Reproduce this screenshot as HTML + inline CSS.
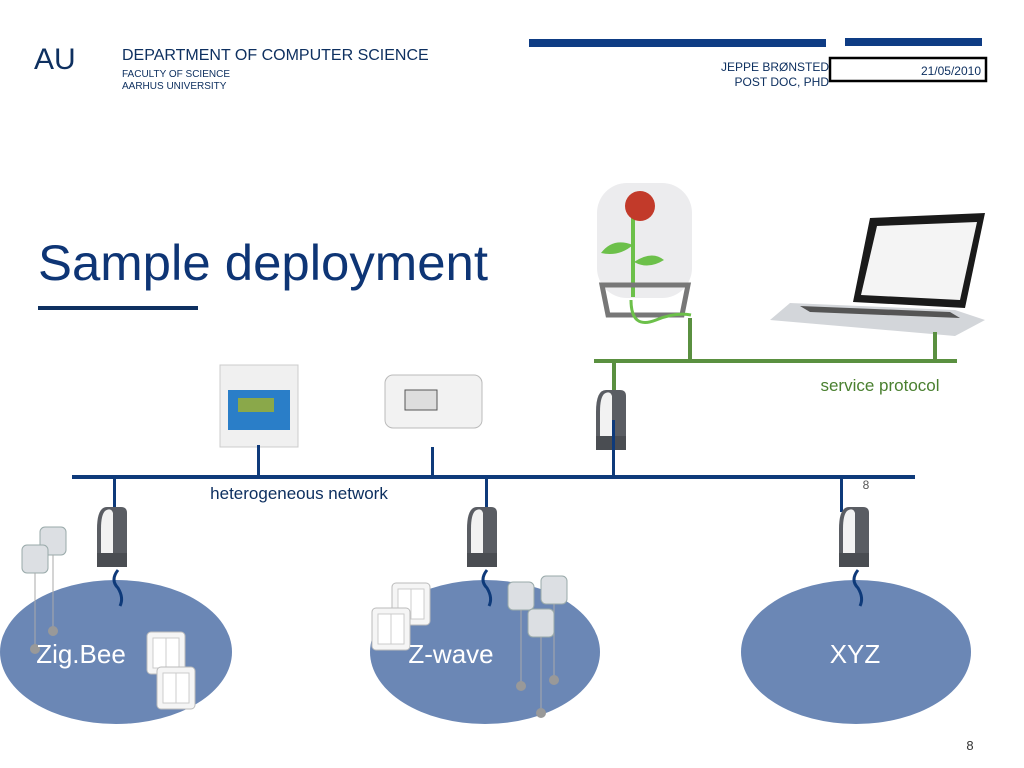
<!DOCTYPE html>
<html><head><meta charset="utf-8"><style>
body{margin:0;background:#fff;width:1024px;height:768px;overflow:hidden}
svg{display:block}
text{font-family:"Liberation Sans",sans-serif}
</style></head><body>
<svg width="1024" height="768" viewBox="0 0 1024 768" xmlns="http://www.w3.org/2000/svg">
<defs>
<g id="router">
<path d="M8 0 h14 q6 0 6 6 v54 h-30 v-38 q0 -22 10 -22z" fill="#5a5d63"/>
<path d="M6 4 q6 -4 8 2 v40 h-12 v-24 q0 -14 4 -18z" fill="#f2f2f2"/>
<path d="M-2 46 h30 v14 h-30z" fill="#4a4d52"/>
</g>
<g id="lamp">
<rect x="0" y="0" width="26" height="28" rx="5" fill="#dcdfe3" stroke="#9aa" stroke-width="1"/>
<line x1="13" y1="28" x2="13" y2="100" stroke="#aaa" stroke-width="1"/>
<ellipse cx="13" cy="104" rx="5" ry="5" fill="#999"/>
</g>
<g id="switch">
<rect x="0" y="0" width="38" height="42" rx="4" fill="#f5f5f5" stroke="#bbb"/>
<rect x="6" y="6" width="26" height="30" fill="#fff" stroke="#ccc"/>
<line x1="19" y1="6" x2="19" y2="36" stroke="#ccc"/>
</g>
</defs>
<text x="34" y="69" font-size="30" fill="#0e3060">AU</text>
<text x="122" y="60" font-size="16" fill="#0e3060">DEPARTMENT OF COMPUTER SCIENCE</text>
<text x="122" y="77" font-size="10" fill="#0e3060">FACULTY OF SCIENCE</text>
<text x="122" y="89" font-size="10" fill="#0e3060">AARHUS UNIVERSITY</text>
<rect x="529" y="39" width="297" height="8" fill="#0e3c84"/>
<rect x="845" y="38" width="137" height="8" fill="#0e3c84"/>
<text x="829" y="71" font-size="12" fill="#0e3060" text-anchor="end">JEPPE BRØNSTED</text>
<text x="829" y="86" font-size="12" fill="#0e3060" text-anchor="end">POST DOC, PHD</text>
<rect x="830" y="58" width="156" height="23" fill="none" stroke="#000" stroke-width="2.5"/>
<text x="981" y="75" font-size="12" fill="#0e3060" text-anchor="end">21/05/2010</text>
<text x="38" y="280" font-size="50" fill="#0e3575" textLength="450" lengthAdjust="spacingAndGlyphs">Sample deployment</text>
<rect x="38" y="306" width="160" height="4" fill="#0e3060"/>
<!-- flower -->
<rect x="597" y="183" width="95" height="115" rx="30" fill="#ececee"/>
<path d="M633 297 v-85" stroke="#6cc04a" stroke-width="4" fill="none"/>
<circle cx="640" cy="206" r="15" fill="#c23a2a"/>
<path d="M633 245 q-20 -8 -32 8 q18 4 32 -8z M634 262 q18 -12 30 -2 q-16 10 -30 2z" fill="#6cc04a"/>
<path d="M602 285 h86 l-6 30 h-74z" fill="none" stroke="#777" stroke-width="5"/>
<path d="M631 300 q0 30 25 20 q20 -8 35 -5" stroke="#6cc04a" stroke-width="3" fill="none"/>
<!-- laptop -->
<path d="M870 218 L985 213 L965 308 L853 302 Z" fill="#1a1a1a"/>
<path d="M877 226 L977 222 L960 300 L861 295 Z" fill="#f4f4f4"/>
<path d="M790 303 L955 310 L985 320 L955 336 L770 320 Z" fill="#d3d6da"/>
<path d="M800 306 L950 312 L960 318 L810 312 Z" fill="#555"/>
<!-- green bus -->
<rect x="594" y="359" width="363" height="4" fill="#5a9040"/>
<rect x="688" y="318" width="4" height="43" fill="#5a9040"/>
<rect x="933" y="332" width="4" height="29" fill="#5a9040"/>
<rect x="612" y="361" width="4" height="30" fill="#5a9040"/>
<text x="880" y="391" font-size="17" fill="#4a8030" text-anchor="middle">service protocol</text>
<!-- devices -->
<rect x="220" y="365" width="78" height="82" fill="#f0f0f0" stroke="#ccc"/>
<rect x="228" y="390" width="62" height="40" fill="#2a7ec8"/>
<rect x="238" y="398" width="36" height="14" fill="#8aa84a"/>
<rect x="385" y="375" width="97" height="53" rx="8" fill="#f2f2f2" stroke="#bbb"/>
<rect x="405" y="390" width="32" height="20" fill="#ddd" stroke="#555"/>
<use href="#router" x="598" y="390"/>
<!-- blue bus -->
<rect x="72" y="475" width="843" height="4" fill="#0e3a7a"/>
<rect x="113" y="477" width="3" height="35" fill="#0e3a7a"/>
<rect x="257" y="445" width="3" height="32" fill="#0e3a7a"/>
<rect x="431" y="447" width="3" height="30" fill="#0e3a7a"/>
<rect x="485" y="477" width="3" height="35" fill="#0e3a7a"/>
<rect x="612" y="420" width="3" height="57" fill="#0e3a7a"/>
<rect x="840" y="477" width="3" height="35" fill="#0e3a7a"/>
<text x="866" y="489" font-size="12" fill="#555" text-anchor="middle">8</text>
<text x="299" y="499" font-size="17" fill="#0e3060" text-anchor="middle">heterogeneous network</text>
<!-- clouds -->
<ellipse cx="116" cy="652" rx="116" ry="72" fill="#6b87b5"/>
<ellipse cx="485" cy="652" rx="115" ry="72" fill="#6b87b5"/>
<ellipse cx="856" cy="652" rx="115" ry="72" fill="#6b87b5"/>
<use href="#router" x="99" y="507"/>
<use href="#router" x="469" y="507"/>
<use href="#router" x="841" y="507"/>
<path d="M118 570 q-8 10 0 18 q6 10 2 18" stroke="#0e3a7a" stroke-width="3" fill="none"/>
<path d="M487 570 q-8 10 0 18 q6 10 2 18" stroke="#0e3a7a" stroke-width="3" fill="none"/>
<path d="M858 570 q-8 10 0 18 q6 10 2 18" stroke="#0e3a7a" stroke-width="3" fill="none"/>
<use href="#lamp" x="40" y="527"/>
<use href="#lamp" x="22" y="545"/>
<use href="#switch" x="147" y="632"/>
<use href="#switch" x="157" y="667"/>
<use href="#switch" x="392" y="583"/>
<use href="#switch" x="372" y="608"/>
<use href="#lamp" x="508" y="582"/>
<use href="#lamp" x="541" y="576"/>
<use href="#lamp" x="528" y="609"/>
<text x="81" y="663" font-size="26" fill="#fff" text-anchor="middle">Zig.Bee</text>
<text x="451" y="663" font-size="26" fill="#fff" text-anchor="middle">Z-wave</text>
<text x="855" y="663" font-size="26" fill="#fff" text-anchor="middle">XYZ</text>
<text x="970" y="750" font-size="13" fill="#333" text-anchor="middle">8</text>
</svg>
</body></html>
